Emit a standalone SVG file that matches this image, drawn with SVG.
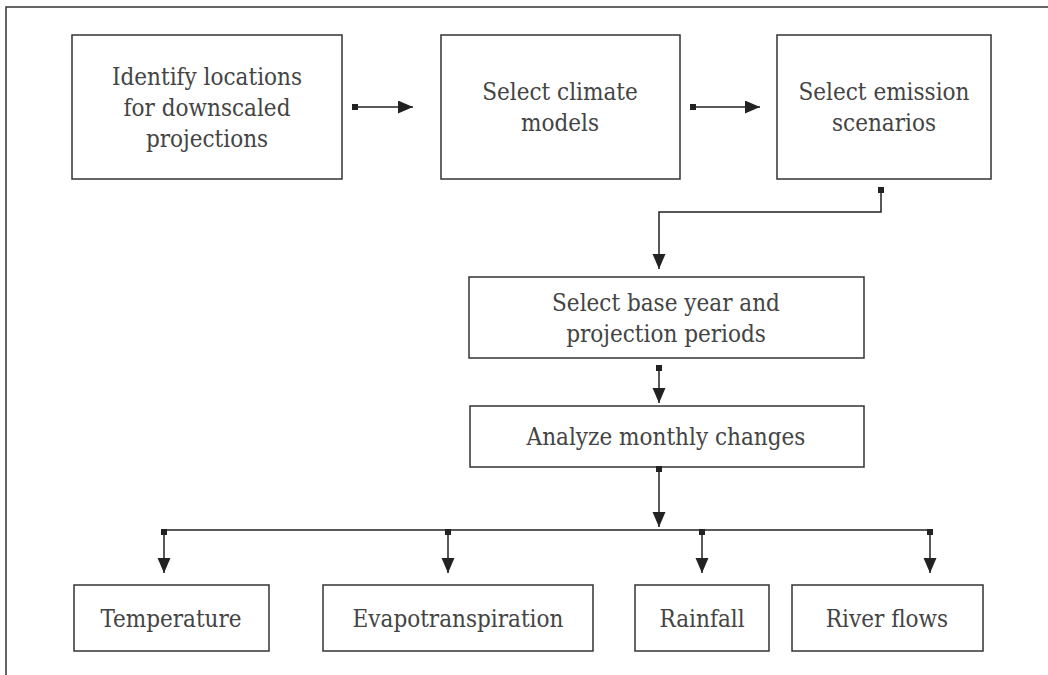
<svg xmlns="http://www.w3.org/2000/svg" width="1048" height="675" viewBox="0 0 1048 675">
<style>
.box{fill:#fff;stroke:#333;stroke-width:1.5}
.t{font-family:"DejaVu Serif","Liberation Serif",serif;font-stretch:condensed;font-size:24px;fill:#444;text-anchor:middle}
.c{fill:none;stroke:#222;stroke-width:1.5}
</style>
<defs>
<marker id="arr" markerUnits="userSpaceOnUse" markerWidth="16" markerHeight="14" refX="15" refY="6.5" orient="auto">
<path d="M0,0 L15,6.5 L0,13 z" fill="#222"/>
</marker>
<marker id="sq" markerUnits="userSpaceOnUse" markerWidth="7" markerHeight="7" refX="3.5" refY="3.5" orient="auto">
<rect x="0.5" y="0.5" width="6" height="6" fill="#222"/>
</marker>
</defs>
<rect width="1048" height="675" fill="#fff"/>
<path d="M6,675 V7 H1048" fill="none" stroke="#333" stroke-width="1.5"/>
<g id="n1"><rect class="box" x="72" y="35" width="270" height="144"/>
<text class="t" x="207" y="85">Identify locations</text><text class="t" x="207" y="116">for downscaled</text><text class="t" x="207" y="147">projections</text></g>
<g id="n2"><rect class="box" x="441" y="35" width="239" height="144"/>
<text class="t" x="560" y="100">Select climate</text><text class="t" x="560" y="131">models</text></g>
<g id="n3"><rect class="box" x="777" y="35" width="214" height="144"/>
<text class="t" x="884" y="100">Select emission</text><text class="t" x="884" y="131">scenarios</text></g>
<g id="n4"><rect class="box" x="469" y="277" width="395" height="81"/>
<text class="t" x="666" y="311">Select base year and</text><text class="t" x="666" y="342">projection periods</text></g>
<g id="n5"><rect class="box" x="470" y="406" width="394" height="61"/>
<text class="t" x="666" y="445">Analyze monthly changes</text></g>
<g id="n6"><rect class="box" x="74" y="585" width="195" height="66"/>
<text class="t" x="171" y="627">Temperature</text></g>
<g id="n7"><rect class="box" x="323" y="585" width="270" height="66"/>
<text class="t" x="458" y="627">Evapotranspiration</text></g>
<g id="n8"><rect class="box" x="635" y="585" width="134" height="66"/>
<text class="t" x="702" y="627">Rainfall</text></g>
<g id="n9"><rect class="box" x="792" y="585" width="191" height="66"/>
<text class="t" x="887" y="627">River flows</text></g>
<g id="connectors">
<path class="c" d="M355,107 H413" marker-start="url(#sq)" marker-end="url(#arr)"/>
<path class="c" d="M693,107 H760" marker-start="url(#sq)" marker-end="url(#arr)"/>
<path class="c" d="M881,190 V212 H659 V269" marker-start="url(#sq)" marker-end="url(#arr)"/>
<path class="c" d="M659,368 V403" marker-start="url(#sq)" marker-end="url(#arr)"/>
<path class="c" d="M659,469 V527" marker-start="url(#sq)" marker-end="url(#arr)"/>
<path class="c" d="M164,530 H931"/>
<path class="c" d="M164,532 V573" marker-start="url(#sq)" marker-end="url(#arr)"/>
<path class="c" d="M448,532 V573" marker-start="url(#sq)" marker-end="url(#arr)"/>
<path class="c" d="M702,532 V573" marker-start="url(#sq)" marker-end="url(#arr)"/>
<path class="c" d="M930,532 V573" marker-start="url(#sq)" marker-end="url(#arr)"/>
</g>
</svg>
